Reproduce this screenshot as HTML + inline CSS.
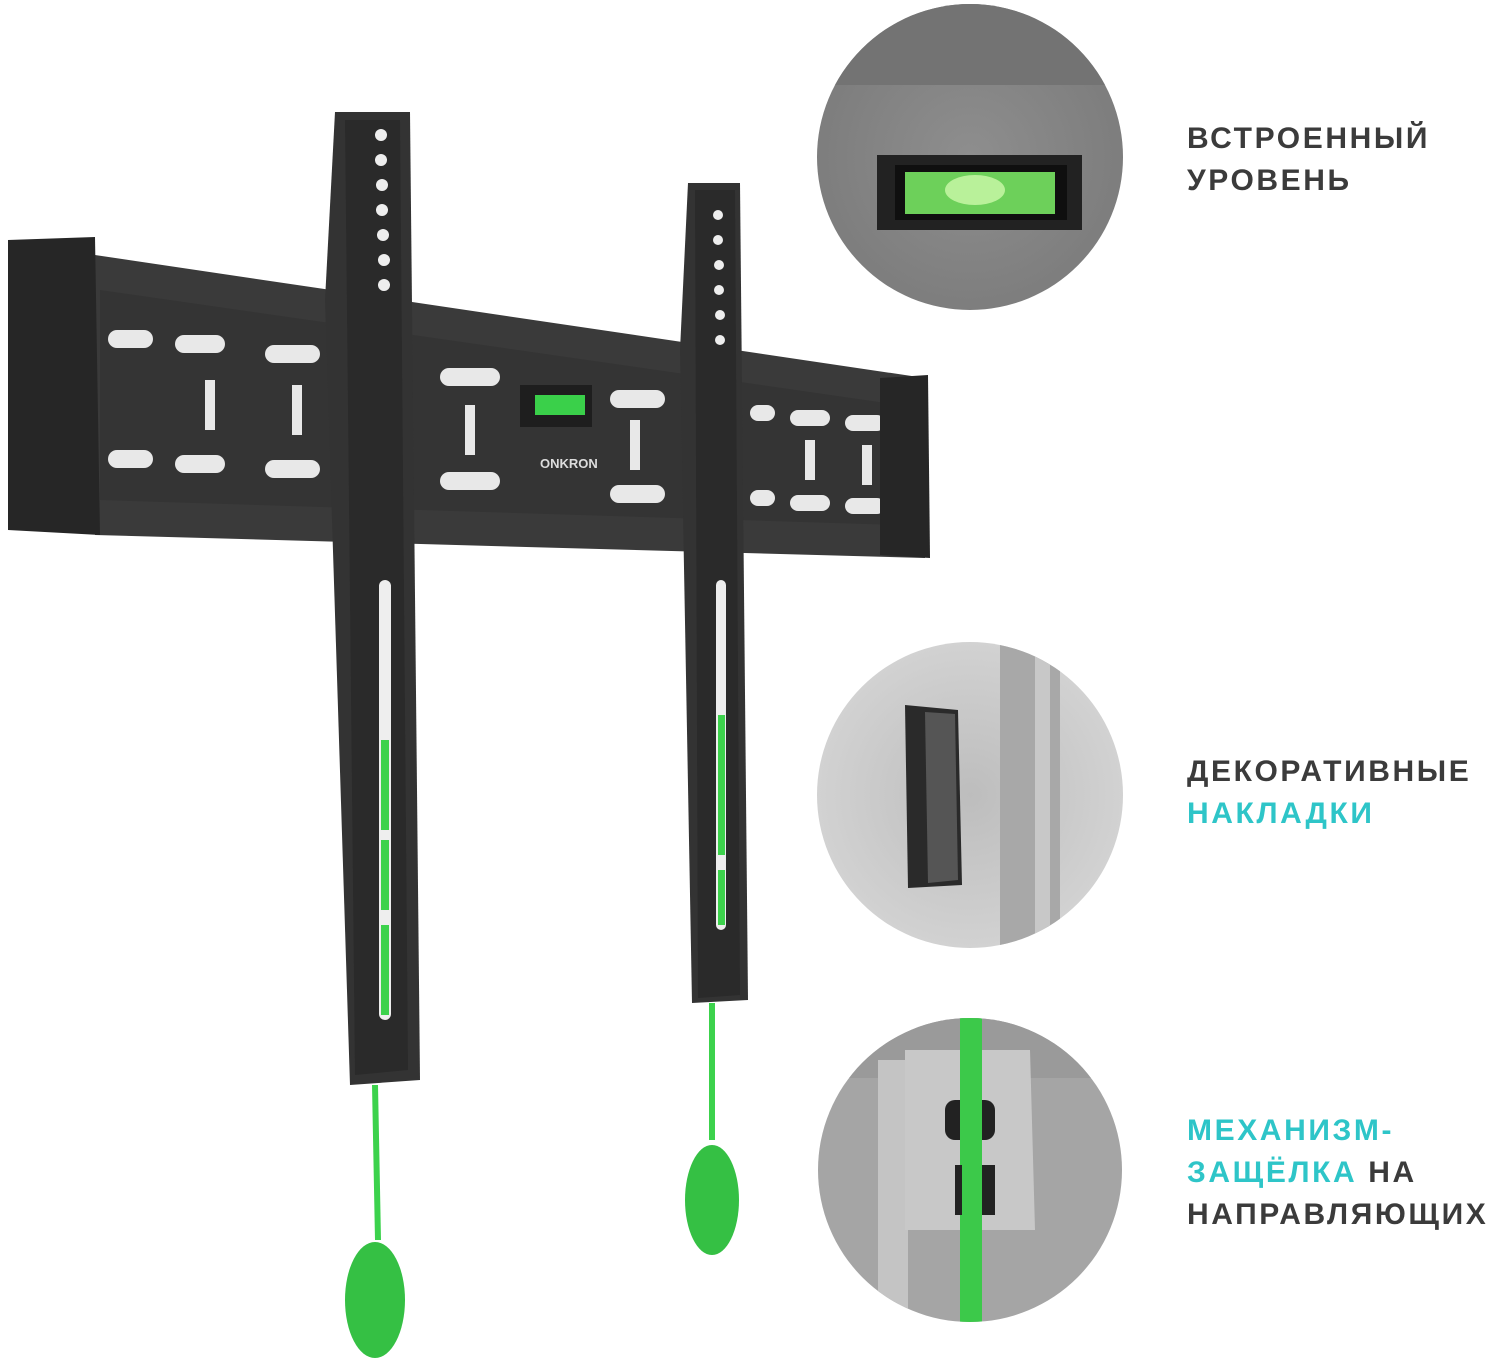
<!DOCTYPE html>
<html><head><meta charset="utf-8"><style>
html,body{margin:0;padding:0;background:#fff;width:1500px;height:1362px;overflow:hidden}
.t{position:absolute;left:1187px;font-family:"Liberation Sans",sans-serif;font-weight:bold;font-size:30px;letter-spacing:2.6px;color:#3b3b3b;line-height:42px}
.g{color:#2ec5c8}
</style></head><body>
<svg width="1500" height="1362" style="position:absolute;left:0;top:0">
<defs>
<radialGradient id="c1" cx="0.5" cy="0.5" r="0.6"><stop offset="0" stop-color="#8e8e8e"/><stop offset="1" stop-color="#7a7a7a"/></radialGradient>
<radialGradient id="c2" cx="0.5" cy="0.5" r="0.6"><stop offset="0" stop-color="#bdbdbd"/><stop offset="1" stop-color="#d6d6d6"/></radialGradient>
<clipPath id="k1"><circle cx="970" cy="157" r="153"/></clipPath>
<clipPath id="k2"><circle cx="970" cy="795" r="153"/></clipPath>
<clipPath id="k3"><circle cx="970" cy="1170" r="152"/></clipPath>
</defs>
<polygon points="95,255 925,378 925,558 95,535" fill="#3a3a3a"/>
<polygon points="100,290 900,405 900,525 100,500" fill="#343434"/>
<g fill="#e8e8e8">
<rect x="108" y="330" width="45" height="18" rx="9"/><rect x="175" y="335" width="50" height="18" rx="9"/><rect x="265" y="345" width="55" height="18" rx="9"/>
<rect x="108" y="450" width="45" height="18" rx="9"/><rect x="175" y="455" width="50" height="18" rx="9"/><rect x="265" y="460" width="55" height="18" rx="9"/>
<rect x="440" y="368" width="60" height="18" rx="9"/><rect x="440" y="472" width="60" height="18" rx="9"/>
<rect x="610" y="390" width="55" height="18" rx="9"/><rect x="610" y="485" width="55" height="18" rx="9"/>
<rect x="750" y="405" width="25" height="16" rx="8"/><rect x="790" y="410" width="40" height="16" rx="8"/><rect x="845" y="415" width="40" height="16" rx="8"/>
<rect x="750" y="490" width="25" height="16" rx="8"/><rect x="790" y="495" width="40" height="16" rx="8"/><rect x="845" y="498" width="40" height="16" rx="8"/>
<rect x="205" y="380" width="10" height="50"/><rect x="292" y="385" width="10" height="50"/><rect x="465" y="405" width="10" height="50"/><rect x="630" y="420" width="10" height="50"/><rect x="805" y="440" width="10" height="40"/><rect x="862" y="445" width="10" height="40"/>
</g>
<rect x="520" y="385" width="72" height="42" fill="#1e1e1e"/><rect x="535" y="395" width="50" height="20" fill="#3ad04a"/>
<text x="540" y="468" font-family="Liberation Sans" font-weight="bold" font-size="13" fill="#ddd">ONKRON</text>
<polygon points="8,240 95,237 100,535 8,530" fill="#262626"/>
<polygon points="880,378 928,375 930,558 880,555" fill="#262626"/>
<polygon points="335,112 410,112 420,1080 350,1085 325,300" fill="#333"/>
<polygon points="345,120 400,120 408,1070 355,1075" fill="#2a2a2a"/>
<polygon points="688,183 740,183 748,1000 692,1003 680,350" fill="#333"/>
<polygon points="695,190 735,190 740,995 698,998" fill="#2a2a2a"/>
<g fill="#eee">
<circle cx="381" cy="135" r="6"/><circle cx="381" cy="160" r="6"/><circle cx="382" cy="185" r="6"/><circle cx="382" cy="210" r="6"/><circle cx="383" cy="235" r="6"/><circle cx="384" cy="260" r="6"/><circle cx="384" cy="285" r="6"/>
<circle cx="718" cy="215" r="5"/><circle cx="718" cy="240" r="5"/><circle cx="719" cy="265" r="5"/><circle cx="719" cy="290" r="5"/><circle cx="720" cy="315" r="5"/><circle cx="720" cy="340" r="5"/>
<rect x="379" y="580" width="12" height="440" rx="6"/><rect x="716" y="580" width="10" height="350" rx="5"/>
</g>
<g fill="#3cd24c">
<rect x="381" y="740" width="8" height="90"/><rect x="381" y="840" width="8" height="70"/><rect x="381" y="925" width="8" height="90"/>
<rect x="718" y="715" width="7" height="140"/><rect x="718" y="870" width="7" height="55"/>
</g>
<g stroke="#3cd24c" stroke-width="6"><line x1="375" y1="1085" x2="378" y2="1240"/><line x1="712" y1="1003" x2="712" y2="1140"/></g>
<ellipse cx="375" cy="1300" rx="30" ry="58" fill="#35c044"/>
<ellipse cx="712" cy="1200" rx="27" ry="55" fill="#35c044"/>
<circle cx="970" cy="157" r="153" fill="url(#c1)"/>
<g clip-path="url(#k1)"><rect x="800" y="0" width="330" height="85" fill="#737373"/>
<rect x="877" y="155" width="205" height="75" fill="#222"/><rect x="895" y="165" width="172" height="55" fill="#0f0f0f"/><rect x="905" y="172" width="150" height="42" fill="#6dd05a"/><ellipse cx="975" cy="190" rx="30" ry="15" fill="#b9f19a"/></g>
<circle cx="970" cy="795" r="153" fill="url(#c2)"/>
<g clip-path="url(#k2)"><rect x="1000" y="640" width="60" height="320" fill="#a8a8a8"/><rect x="1035" y="640" width="15" height="320" fill="#c8c8c8"/>
<polygon points="905,705 958,710 962,885 908,888" fill="#2a2a2a"/><polygon points="925,712 955,714 958,880 928,883" fill="#555"/></g>
<circle cx="970" cy="1170" r="152" fill="#a5a5a5"/>
<g clip-path="url(#k3)"><rect x="818" y="1018" width="310" height="60" fill="#9a9a9a"/>
<rect x="878" y="1060" width="30" height="260" fill="#c4c4c4"/>
<polygon points="905,1050 1030,1050 1035,1230 905,1230" fill="#c8c8c8"/>
<rect x="960" y="1018" width="22" height="310" fill="#3cc94a"/>
<rect x="945" y="1100" width="50" height="40" rx="10" fill="#222"/><rect x="960" y="1100" width="22" height="40" fill="#3cc94a"/>
<rect x="955" y="1165" width="40" height="50" fill="#222"/><rect x="962" y="1165" width="20" height="50" fill="#3cc94a"/></g>
</svg>
<div class="t" style="top:118px">ВСТРОЕННЫЙ<br>УРОВЕНЬ</div>
<div class="t" style="top:751px">ДЕКОРАТИВНЫЕ<br><span class="g">НАКЛАДКИ</span></div>
<div class="t" style="top:1110px"><span class="g">МЕХАНИЗМ-<br>ЗАЩЁЛКА</span> НА<br>НАПРАВЛЯЮЩИХ</div>
</body></html>
